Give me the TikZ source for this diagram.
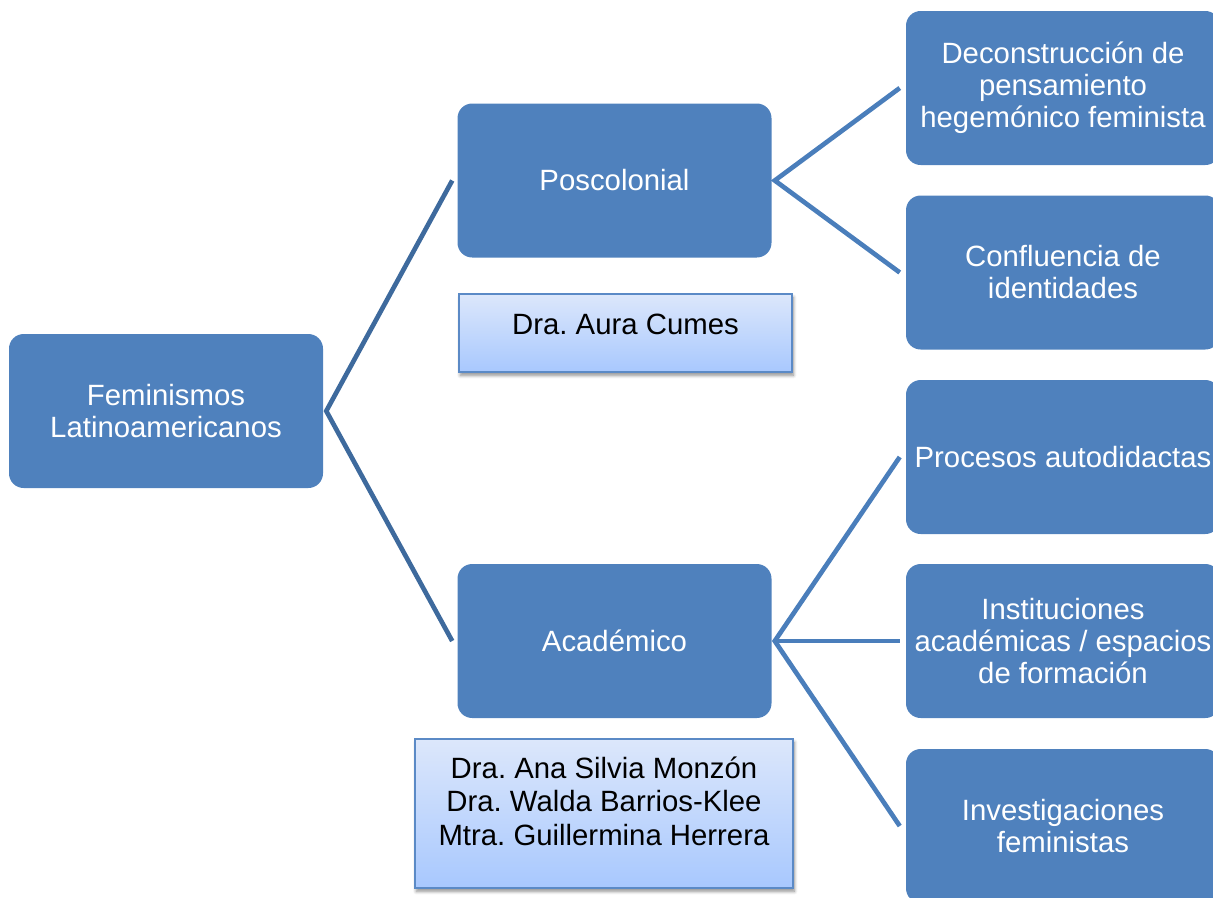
\documentclass[tikz,border=0pt]{standalone}
\usepackage{fontspec}
\setmainfont{Liberation Sans}
\usetikzlibrary{calc,shadows,shadows.blur}
\frenchspacing
\definecolor{boxblue}{HTML}{4F81BD}
\definecolor{rootline}{HTML}{3E6A9D}
\definecolor{subline}{HTML}{4A7EBB}
\definecolor{lighttop}{HTML}{DCE7FB}
\definecolor{lightbot}{HTML}{A8C8FE}
\definecolor{lightedge}{HTML}{5B8AC6}
\tikzset{
  bluebox/.style={rectangle, rounded corners=11pt, fill=boxblue, draw=none,
    minimum width=235.5pt, minimum height=115.5pt, text=white, align=center,
    font=\fontsize{22}{24}\selectfont, inner sep=0pt},
  lightbox/.style={rectangle, draw=lightedge, line width=1pt, top color=lighttop, bottom color=lightbot,
    blur shadow={shadow blur steps=6, shadow xshift=1pt, shadow yshift=-2.5pt, shadow blur radius=2.5pt, shadow opacity=45}, inner sep=0pt},
  lighttext/.style={text=black, align=center, font=\fontsize{22}{25}\selectfont, inner sep=0pt},
  rootconn/.style={draw=rootline, line width=3.5pt, miter limit=20},
  subconn/.style={draw=subline, line width=3.5pt, miter limit=20}
}
\begin{document}
\begin{tikzpicture}[x=0.75pt,y=-0.75pt]
\useasboundingbox (0,0) rectangle (1213,897);
\clip (0,0) rectangle (1213,897);
\node[bluebox] (root) at (166,411) {Feminismos\\Latinoamericanos};
\node[bluebox] (pos) at (614.5,180.5) {Poscolonial};
\node[bluebox] (aca) at (614.5,641) {Académico};
\node[bluebox] (r1) at (1063,88) {Deconstrucción de\\pensamiento\\hegemónico feminista};
\node[bluebox] (r2) at (1063,272.5) {Confluencia de\\identidades};
\node[bluebox] (r3) at (1063,457) {Procesos autodidactas};
\node[bluebox] (r4) at (1063,641) {Instituciones\\académicas / espacios\\de formación};
\node[bluebox] (r5) at (1063,826) {Investigaciones\\feministas};

\node[lightbox, minimum width=249.75pt, minimum height=58.5pt] (aurabox) at (625.5,333) {};
\node[lighttext] (auratext) at (625.5,324) {Dra. Aura Cumes};
\node[lightbox, minimum width=283.5pt, minimum height=111.75pt] (anabox) at (604,813.5) {};
\node[lighttext] (anatext) at (604,801) {Dra. Ana Silvia Monzón\\Dra. Walda Barrios-Klee\\Mtra. Guillermina Herrera};

\coordinate (v0) at ($(root.east)+(3,0)$);
\draw[rootconn] ($(pos.west)+(-5,0)$) -- (v0) -- ($(aca.west)+(-5,0)$);
\coordinate (v1) at ($(pos.east)+(3,0)$);
\draw[subconn] ($(r1.west)+(-6,0)$) -- (v1) -- ($(r2.west)+(-6,0)$);
\coordinate (v2) at ($(aca.east)+(3,0)$);
\draw[subconn] ($(r3.west)+(-6,0)$) -- (v2) -- ($(r5.west)+(-6,0)$);
\draw[subconn] (v2) -- ($(r4.west)+(-6,0)$);
\end{tikzpicture}
\end{document}
